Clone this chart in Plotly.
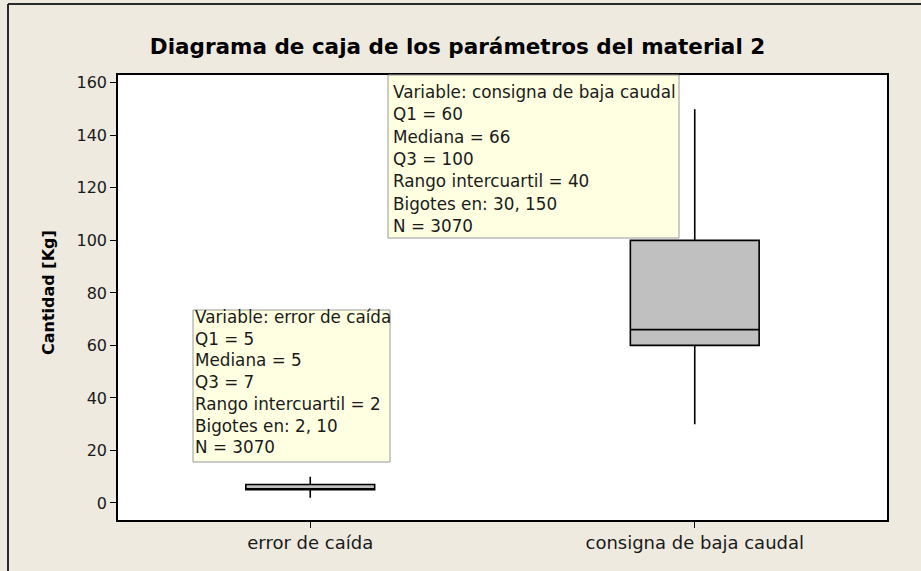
import plotly.graph_objects as go

# box plot statistics (Minitab output)
variables = ["error de caída", "consigna de baja caudal"]
q1 = [5, 60]
mediana = [5, 66]
q3 = [7, 100]
bigote_inf = [2, 30]
bigote_sup = [10, 150]
n_obs = [3070, 3070]
y_ticks = [0, 20, 40, 60, 80, 100, 120, 140, 160]

BG = "#EEEAE0"
FONT = "DejaVu Sans"

# plot area in pixels, used to place the tooltip boxes
L, R, T, B = 118, 887, 75, 520


def px(x):
    return (x - L) / (R - L)


def py(y):
    return (B - y) / (B - T)


fig = go.Figure()

fig.add_trace(go.Box(
    x=variables,
    q1=q1,
    median=mediana,
    q3=q3,
    lowerfence=bigote_inf,
    upperfence=bigote_sup,
    width=0.335,
    whiskerwidth=0,
    fillcolor="#C0C0C0",
    line=dict(color="#000000", width=1.6),
    boxpoints=False,
    hoverinfo="skip",
    showlegend=False,
))

shapes = []
annotations = []

# outer frame of the graph window (only top and left edges visible)
shapes.append(dict(type="line", xref="paper", yref="paper",
                   x0=px(8), x1=px(1000), y0=py(4), y1=py(4),
                   line=dict(color="#2a2a2a", width=2)))
shapes.append(dict(type="line", xref="paper", yref="paper",
                   x0=px(8), x1=px(8), y0=py(4), y1=py(650),
                   line=dict(color="#2a2a2a", width=2)))

# tooltip boxes: (index, rect x0, x1, y0, y1, text left, first line y, line step)
tooltips = [
    (1, 388, 679, 75, 238, 391, 92, 22.3),
    (0, 193, 390, 310, 462, 193, 317, 21.7),
]
for i, x0, x1, y0, y1, tx, ty, step in tooltips:
    shapes.append(dict(type="rect", xref="paper", yref="paper", layer="above",
                       x0=px(x0), x1=px(x1), y0=py(y0), y1=py(y1),
                       fillcolor="#FFFFE1", line=dict(color="#9a9a9a", width=1)))
    lines = [
        f"Variable: {variables[i]}",
        f"Q1 = {q1[i]}",
        f"Mediana = {mediana[i]}",
        f"Q3 = {q3[i]}",
        f"Rango intercuartil = {q3[i] - q1[i]}",
        f"Bigotes en: {bigote_inf[i]}, {bigote_sup[i]}",
        f"N = {n_obs[i]}",
    ]
    for k, s in enumerate(lines):
        annotations.append(dict(
            text=s, xref="paper", yref="paper",
            x=px(tx), y=py(ty + k * step),
            xanchor="left", yanchor="middle", showarrow=False,
            font=dict(family=FONT, size=16.8, color="#1a1a1a"),
        ))

# y axis title
annotations.append(dict(
    text="<b>Cantidad [Kg]</b>", xref="paper", yref="paper",
    x=px(48), y=py(293), xanchor="center", yanchor="middle",
    textangle=-90, showarrow=False,
    font=dict(family=FONT, size=16, color="#000000"),
))

fig.update_layout(
    width=921,
    height=571,
    margin=dict(l=L, r=921 - R, t=T, b=571 - B),
    paper_bgcolor=BG,
    plot_bgcolor="#FFFFFF",
    title=dict(
        text="<b>Diagrama de caja de los parámetros del material 2</b>",
        x=(147 + 768) / 2 / 921, xref="container", xanchor="center",
        y=1 - 46 / 571, yanchor="middle",
        font=dict(family=FONT, size=21.5, color="#000000"),
    ),
    xaxis=dict(
        range=[-0.5, 1.5],
        showline=True, linecolor="#000000", linewidth=1.5, mirror=True,
        ticks="outside", ticklen=6, tickcolor="#000000",
        showgrid=False, zeroline=False,
        tickfont=dict(family=FONT, size=18, color="#1a1a1a"),
    ),
    yaxis=dict(
        range=[-6.5, 163],
        tickvals=y_ticks,
        showline=True, linecolor="#000000", linewidth=1.5, mirror=True,
        ticks="outside", ticklen=6, tickcolor="#000000",
        showgrid=False, zeroline=False,
        tickfont=dict(family=FONT, size=16, color="#1a1a1a"),
    ),
    shapes=shapes,
    annotations=annotations,
)

# page body has a default 8px margin; remove it so the figure fills the window
fig.write_html("out.html", config={"displayModeBar": False},
               post_script="document.body.style.margin='0';")
